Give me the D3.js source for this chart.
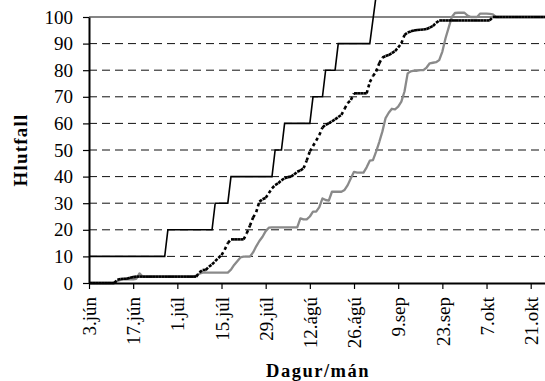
<!DOCTYPE html>
<html>
<head>
<meta charset="utf-8">
<script src="https://cdn.jsdelivr.net/npm/d3@7"></script>
<style>
  body { margin: 0; background: #fff; }
  svg { display: block; }
  svg text { font-family: "Liberation Serif", "Times New Roman", Times, serif; }
</style>
</head>
<body>
<svg id="chart" width="545" height="381"></svg>
<script>
// ---- data ----------------------------------------------------------------
const startDate = "2001-06-03";   // first day of the daily series
const endDate = "2001-10-27";     // right end of the date axis

const tickDates = ["2001-06-03", "2001-06-17", "2001-07-01", "2001-07-15", "2001-07-29",
  "2001-08-12", "2001-08-26", "2001-09-09", "2001-09-23", "2001-10-07", "2001-10-21"];
const tickLabels = ["3.jún", "17.jún", "1.júl", "15.júl", "29.júl",
  "12.ágú", "26.ágú", "9.sep", "23.sep", "7.okt", "21.okt"];
const yTicks = [0, 10, 20, 30, 40, 50, 60, 70, 80, 90, 100];

// solid black series: day offsets from startDate and cumulative %
const stepDays = [0, 24, 25, 39, 40, 44, 45, 58, 59, 61, 62, 70, 71, 74, 75, 78, 79, 89, 91];
const stepValues = [10, 10, 20, 20, 30, 30, 40, 40, 50, 50, 60, 60, 70, 70, 80, 80, 90, 90, 108];

// dotted black series: one value per day from startDate
const dottedValues = [
  0, 0, 0, 0, 0, 0, 0, 0, 0,
  1.2, 1.5, 1.6, 1.6, 2.0, 2.2,
  2.4, 2.4, 2.4, 2.4, 2.4, 2.4, 2.4, 2.4, 2.4, 2.4, 2.4, 2.4, 2.4, 2.4, 2.4, 2.4, 2.4, 2.4, 2.4, 2.4,
  4.0, 4.9, 4.9, 6.1, 7.0, 8.2, 9.4, 10.5, 12.5, 15.0,
  16.4, 16.4, 16.4, 16.4, 16.4,
  18.7, 21.5, 24.6, 26.6, 30.6, 31.5, 32.0, 33.8, 35.6, 36.8, 37.5, 38.6, 39.4, 39.8, 40.0, 40.8, 41.8, 42.3, 43.1,
  46.0, 49.5, 51.5, 53.5, 55.6, 58.5, 59.5, 60.0, 60.8, 61.5, 62.4, 63.2, 65.5, 67.6, 68.8,
  71.3, 71.3, 71.3, 71.3, 71.3,
  75.5, 77.8, 79.5, 82.6, 84.8, 85.3, 85.7, 86.4, 87.2, 88.5, 90.1, 93.2, 94.2, 94.6, 94.9, 95.1, 95.2, 95.3, 95.5, 96.0, 96.6, 97.8,
  98.7, 98.7, 98.7, 98.7, 98.7, 98.7, 98.7, 98.7, 98.7, 98.7, 98.7, 98.7, 98.7, 98.7, 98.7, 98.7, 98.7,
  100, 100, 100, 100, 100, 100, 100, 100, 100, 100, 100, 100, 100, 100, 100, 100, 100, 100, 100
];

// grey series: one value per day from startDate
const greyValues = [
  0, 0, 0, 0, 0, 0, 0, 0, 0,
  0.8, 1.2, 1.4, 1.4, 1.4, 1.4, 1.6, 3.6,
  2.4, 2.4, 2.4, 2.4, 2.4, 2.4, 2.4, 2.4, 2.4, 2.4, 2.4, 2.4, 2.4, 2.4, 2.4, 2.4, 2.4,
  2.8, 3.5, 3.9,
  3.9, 3.9, 3.9, 3.9, 3.9, 3.9, 3.9, 3.9,
  5.0, 6.8, 8.2, 9.6,
  9.9, 9.9, 9.9,
  11.5, 13.8, 15.8, 17.4, 19.5, 20.8,
  20.9, 20.9, 20.9, 20.9, 20.9, 20.9, 20.9, 20.9, 20.9,
  24.3, 23.9, 23.9, 25.0, 26.8, 26.8, 28.5, 31.8, 31.2, 31.0, 34.3,
  34.3, 34.3, 34.3,
  35.0, 36.8, 39.4, 41.8, 41.5, 41.5, 41.5, 43.5, 46.0, 46.2, 49.4, 53.0, 57.0, 62.0, 64.0, 65.5, 65.3, 66.3, 68.2,
  72.0, 78.8, 79.6, 79.8, 79.8, 80.0, 80.0, 81.0, 82.6, 82.8, 83.0, 83.8, 87.0, 92.0, 96.0, 100.0,
  101.5, 101.6, 101.6, 101.6,
  100.5, 100, 100, 100,
  101.3, 101.3, 101.3, 101.2, 101.0,
  100, 100, 100, 100, 100, 100, 100, 100, 100, 100, 100, 100, 100, 100, 100, 100, 100, 100
];

// ---- drawing -------------------------------------------------------------
const svg = d3.select("#chart");
const parse = d3.utcParse("%Y-%m-%d");
const day0 = parse(startDate);
const dateAt = i => d3.utcDay.offset(day0, i);

const plotLeft = 89, plotBottom = 283, plotTop = 17;
const pxPerDay = 3.155;
const dayCount = d3.utcDay.count(day0, parse(endDate));

const x = d3.scaleUtc().domain([day0, parse(endDate)]).range([plotLeft, plotLeft + dayCount * pxPerDay]);
const y = d3.scaleLinear().domain([0, 100]).range([plotBottom, plotTop]);
const xMax = x.range()[1];

const serif = '"Liberation Serif", "Times New Roman", Times, serif';

// dashed gridlines
svg.append("g").selectAll("line")
  .data(yTicks.filter(v => v > 0 && v < 100))
  .join("line")
  .attr("x1", plotLeft).attr("x2", xMax)
  .attr("y1", d => y(d)).attr("y2", d => y(d))
  .attr("stroke", "#111").attr("stroke-width", 1)
  .attr("stroke-dasharray", "8,5");

// plot-area top border
svg.append("line")
  .attr("x1", plotLeft).attr("x2", xMax)
  .attr("y1", y(100)).attr("y2", y(100))
  .attr("stroke", "#858585").attr("stroke-width", 2);

// grey series
const greyPts = greyValues.map((v, i) => [dateAt(i), v]);
svg.append("path")
  .datum(greyPts)
  .attr("fill", "none")
  .attr("stroke", "#8a8a8a")
  .attr("stroke-width", 2.3)
  .attr("stroke-linejoin", "round")
  .attr("d", d3.line().x(d => x(d[0])).y(d => y(d[1])));

// dotted series: each daily segment is stroked on its own so the dot pattern restarts per day
const dottedPts = dottedValues.map((v, i) => [dateAt(i), v]);
const segs = d3.pairs(dottedPts);
svg.append("g").selectAll("line")
  .data(segs)
  .join("line")
  .attr("x1", d => x(d[0][0])).attr("y1", d => y(d[0][1]))
  .attr("x2", d => x(d[1][0])).attr("y2", d => y(d[1][1]))
  .attr("stroke", "#000")
  .attr("stroke-width", 2.6)
  .attr("stroke-dasharray", "3.2,3");

// solid step series
const stepPts = stepDays.map((d, i) => [dateAt(d), stepValues[i]]);
svg.append("path")
  .datum(stepPts)
  .attr("fill", "none")
  .attr("stroke", "#000")
  .attr("stroke-width", 1.6)
  .attr("d", d3.line().x(d => x(d[0])).y(d => y(d[1])));

// y axis
const yAxis = svg.append("g")
  .attr("transform", `translate(${plotLeft},0)`)
  .call(d3.axisLeft(y).tickValues(yTicks).tickFormat(d3.format("d"))
    .tickSize(6).tickSizeOuter(0).tickPadding(10));
yAxis.attr("font-family", null);
yAxis.select(".domain").attr("stroke", "#000").attr("stroke-width", 2);
yAxis.selectAll(".tick line").attr("stroke", "#000").attr("stroke-width", 1.2);
yAxis.selectAll("text").style("font-family", serif).style("font-size", "19px").attr("fill", "#000");

// x axis
const xAxis = svg.append("g")
  .attr("transform", `translate(0,${plotBottom})`)
  .call(d3.axisBottom(x).tickValues(tickDates.map(parse))
    .tickFormat((d, i) => tickLabels[i]).tickSize(6).tickSizeOuter(0));
xAxis.attr("font-family", null);
xAxis.select(".domain").attr("stroke", "#000").attr("stroke-width", 2);
xAxis.selectAll(".tick line").attr("stroke", "#000").attr("stroke-width", 1.2);
xAxis.selectAll("text")
  .style("font-family", serif).style("font-size", "19px").attr("fill", "#000")
  .attr("transform", "rotate(-90)")
  .attr("text-anchor", "end")
  .attr("x", -14).attr("y", 0).attr("dy", "0.35em");

// axis titles
svg.append("text")
  .attr("transform", `translate(26.5,${(plotTop + plotBottom) / 2}) rotate(-90)`)
  .attr("text-anchor", "middle")
  .style("font-family", serif).style("font-weight", "bold").style("font-size", "19px")
  .style("letter-spacing", "1.2px")
  .text("Hlutfall");

svg.append("text")
  .attr("x", 318).attr("y", 377)
  .attr("text-anchor", "middle")
  .style("font-family", serif).style("font-weight", "bold").style("font-size", "18.5px")
  .style("letter-spacing", "1.5px")
  .text("Dagur/mán");
</script>
</body>
</html>
